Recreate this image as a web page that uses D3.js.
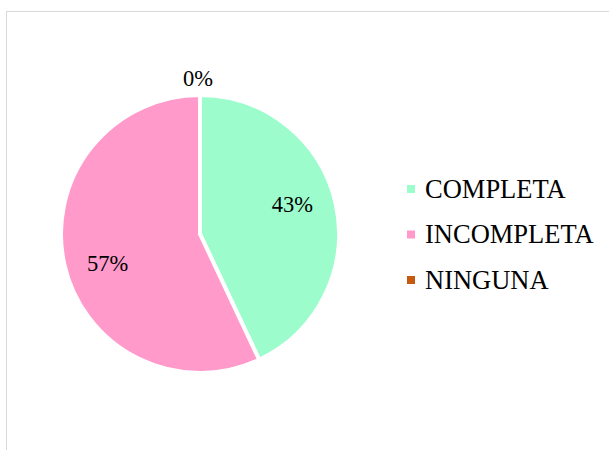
<!DOCTYPE html>
<html>
<head>
<meta charset="utf-8">
<script src="https://cdn.jsdelivr.net/npm/d3@7/dist/d3.min.js"></script>
<style>
  html, body { margin: 0; padding: 0; background: #fff; }
  svg { display: block; }
</style>
</head>
<body>
<svg id="chart" width="609" height="450"></svg>
<script>
// Share of responses per category (percent)
const categories = ["COMPLETA", "INCOMPLETA", "NINGUNA"];
const values = [43, 57, 0];
const colors = ["#9cfccc", "#ff9acb", "#c55a11"];

const W = 609, H = 450;
const FONT = "'Times New Roman', 'Liberation Serif', 'DejaVu Serif', serif";
const svg = d3.select("#chart");

// chart area frame
svg.append("rect")
  .attr("x", 6.5).attr("y", 11.5)
  .attr("width", W + 20).attr("height", H + 20)
  .attr("fill", "#fff")
  .attr("stroke", "#d9d9d9")
  .attr("stroke-width", 1);

const cx = 200, cy = 234, radius = 139;

const color = d3.scaleOrdinal().domain(categories).range(colors);
const data = categories.map((c, i) => ({ name: c, value: values[i] }));

const pie = d3.pie().sort(null).value(d => d.value);
const arcs = pie(data);
const arc = d3.arc().innerRadius(0).outerRadius(radius);

const g = svg.append("g").attr("transform", `translate(${cx},${cy})`);

g.selectAll("path.slice")
  .data(arcs)
  .join("path")
  .attr("class", "slice")
  .attr("d", arc)
  .attr("fill", d => color(d.data.name))
  .attr("stroke", "#fff")
  .attr("stroke-width", 4)
  .attr("stroke-linejoin", "miter");

// data labels: inside for non-empty slices, above the rim for empty ones
const labelShift = -5 * Math.PI / 180;
function labelPos(d) {
  const mid = (d.startAngle + d.endAngle) / 2;
  if (d.data.value === 0) {
    const r = radius + 17;
    return [r * Math.sin(mid) - 2, -r * Math.cos(mid)];
  }
  const a = mid + labelShift;
  const r = 97;
  return [r * Math.sin(a), -r * Math.cos(a)];
}
g.selectAll("text.lbl")
  .data(arcs)
  .join("text")
  .attr("class", "lbl")
  .attr("x", d => labelPos(d)[0])
  .attr("y", d => labelPos(d)[1])
  .attr("text-anchor", "middle")
  .attr("dominant-baseline", "central")
  .attr("font-family", FONT)
  .attr("font-size", 22.5)
  .attr("fill", "#000")
  .text(d => Math.round(d.data.value) + "%");

// legend
const ly = d3.scalePoint().domain(categories).range([189, 280]);
const legend = svg.append("g");
const item = legend.selectAll("g")
  .data(categories)
  .join("g")
  .attr("transform", d => `translate(407,${ly(d)})`);
item.append("rect")
  .attr("x", 0).attr("y", -4)
  .attr("width", 8).attr("height", 8)
  .attr("fill", d => color(d));
item.append("text")
  .attr("x", 18).attr("y", 8.7)
  .attr("font-family", FONT)
  .attr("font-size", 26.5)
  .attr("fill", "#000")
  .text(d => d);
</script>
</body>
</html>
